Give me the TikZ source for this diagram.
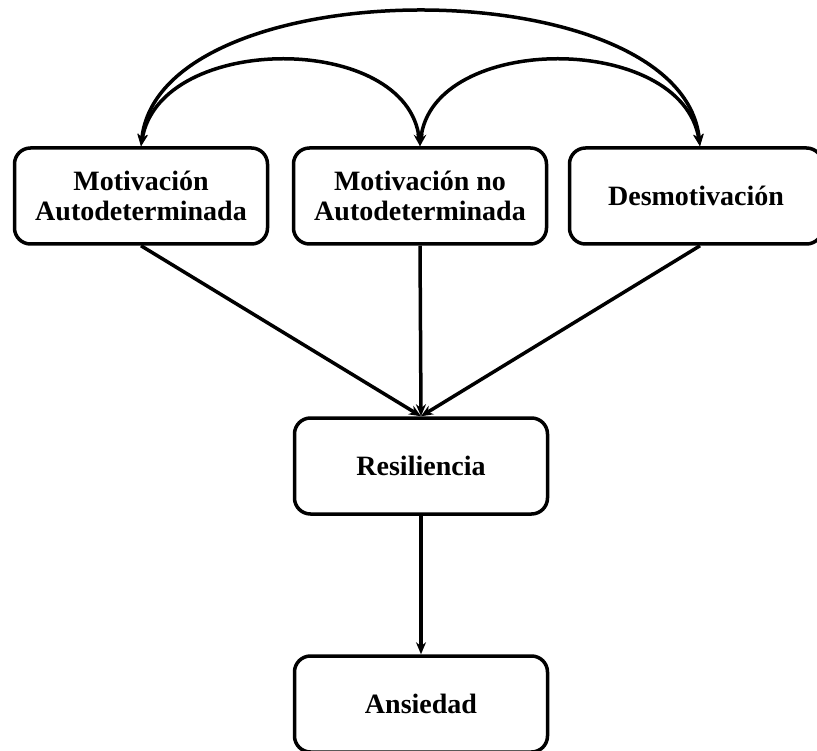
\documentclass[tikz,border=0pt]{standalone}
\usepackage{fontspec}
\setmainfont{Liberation Serif}
\usetikzlibrary{arrows.meta}

\begin{document}
\begin{tikzpicture}[x=1pt,y=-1pt]
		\tikzset{every node/.style={draw,line width=3.5pt,rounded corners=16pt,align=center,
		   minimum width=253pt,minimum height=96pt,inner sep=0pt,
		   font=\fontsize{28}{30}\selectfont\bfseries}}
		\tikzset{link/.style={line width=3.5pt,-{Stealth[length=12pt,width=10pt]}}}
		\tikzset{corr/.style={line width=3.5pt,{Stealth[length=12pt,width=10pt]}-{Stealth[length=12pt,width=10pt]}}}
		\useasboundingbox (0,0) rectangle (817,751);
		% first row
		\node (motAuto) at (141,196) {Motivación\\Autodeterminada};
		\node (motNoAuto) at (420,196) {Motivación no\\Autodeterminada};
		\node (desmot) at (696,196) {Desmotivación};
		% lower boxes
		\node (resil) at (421,466) {Resiliencia};
		\node (ansied) at (421,704) {Ansiedad};
		% correlations
		\draw[corr] (motAuto.north) .. controls (160,32) and (408,32) .. (motNoAuto.north);
		\draw[corr] (motNoAuto.north) .. controls (432,32) and (682,32) .. (desmot.north -| 700,0);
		\draw[corr] (motAuto.north) .. controls (160,-33) and (682,-33) .. (desmot.north -| 700,0);
		% paths
		\draw[link] (motAuto.south) -- (resil.north);
		\draw[link] (motNoAuto.south) -- (resil.north);
		\draw[link] (desmot.south -| 700,0) -- (resil.north);
		\draw[link] (resil.south) -- (ansied.north);
\end{tikzpicture}
\end{document}
